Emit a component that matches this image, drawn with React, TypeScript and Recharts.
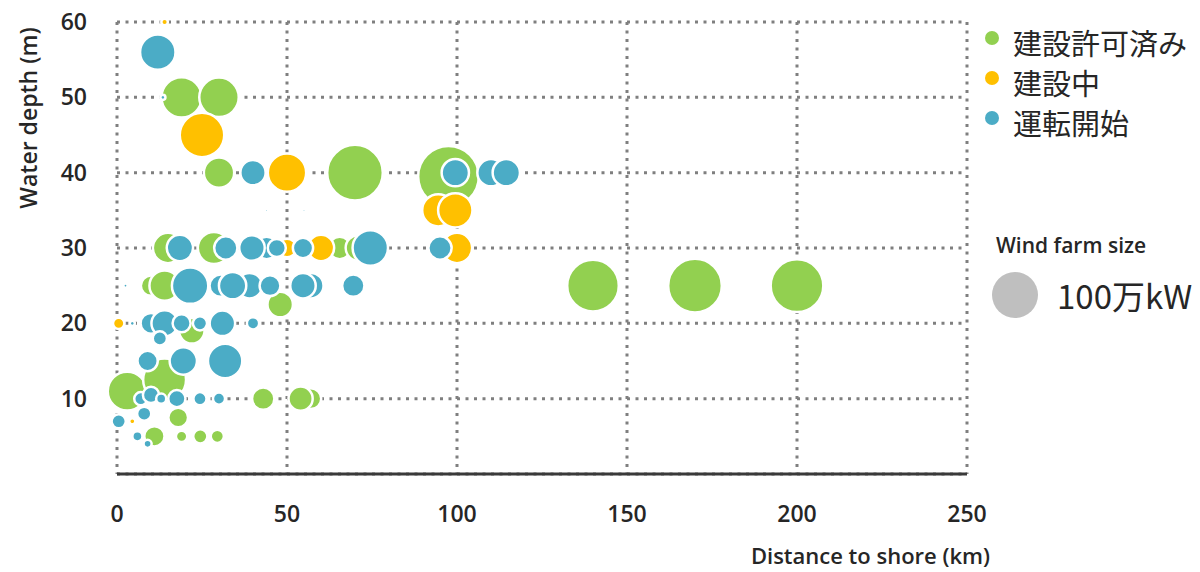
import React from 'react'
import { ScatterChart, Scatter, XAxis, YAxis, ZAxis, CartesianGrid, Label } from 'recharts'

// capacity in MW (z), distance to shore in km (x), water depth in m (y)
const permitted = [
  { x: 140, y: 25, z: 1230 },
  { x: 170, y: 25, z: 1330 },
  { x: 200, y: 25, z: 1280 },
  { x: 70, y: 40, z: 1430 },
  { x: 97.5, y: 39.5, z: 1700 },
  { x: 19, y: 50, z: 750 },
  { x: 30, y: 50, z: 720 },
  { x: 22, y: 45, z: 190 },
  { x: 30, y: 40, z: 425 },
  { x: 15, y: 30, z: 425 },
  { x: 28.5, y: 30, z: 480 },
  { x: 65.5, y: 30, z: 230 },
  { x: 71, y: 30, z: 300 },
  { x: 10, y: 25, z: 190 },
  { x: 14, y: 25, z: 425 },
  { x: 48, y: 22.5, z: 300 },
  { x: 22, y: 19, z: 300 },
  { x: 3, y: 11, z: 700 },
  { x: 14, y: 12.5, z: 850 },
  { x: 43, y: 10, z: 230 },
  { x: 57, y: 10, z: 200 },
  { x: 54, y: 10, z: 270 },
  { x: 18, y: 7.5, z: 180 },
  { x: 11, y: 5, z: 190 },
  { x: 19, y: 5, z: 60 },
  { x: 24.5, y: 5, z: 93 },
  { x: 29.5, y: 5, z: 80 },
]

const underConstruction = [
  { x: 14, y: 60, z: 20 },
  { x: 25, y: 45, z: 915 },
  { x: 50, y: 40, z: 680 },
  { x: 94.5, y: 35, z: 480 },
  { x: 99.5, y: 35, z: 546 },
  { x: 100, y: 30, z: 425 },
  { x: 50, y: 30, z: 160 },
  { x: 60, y: 30, z: 320 },
  { x: 0.5, y: 20, z: 60 },
  { x: 4.5, y: 7, z: 17 },
]

const operating = [
  { x: 12, y: 56, z: 580 },
  { x: 13.5, y: 50, z: 12 },
  { x: 40, y: 40, z: 295 },
  { x: 99.5, y: 40, z: 345 },
  { x: 110, y: 40, z: 345 },
  { x: 114.5, y: 40, z: 345 },
  { x: 44, y: 35, z: 5 },
  { x: 55, y: 35, z: 5 },
  { x: 95, y: 30, z: 250 },
  { x: 18.5, y: 30, z: 320 },
  { x: 32, y: 30, z: 250 },
  { x: 44, y: 30, z: 230 },
  { x: 39.7, y: 30, z: 300 },
  { x: 47, y: 30, z: 150 },
  { x: 54.7, y: 30, z: 190 },
  { x: 74.5, y: 30, z: 580 },
  { x: 2.5, y: 25, z: 8 },
  { x: 30.5, y: 25, z: 230 },
  { x: 21.5, y: 25, z: 612 },
  { x: 39, y: 25, z: 300 },
  { x: 34, y: 25, z: 345 },
  { x: 45, y: 25, z: 200 },
  { x: 57, y: 25, z: 300 },
  { x: 54.7, y: 25, z: 300 },
  { x: 69.5, y: 25, z: 230 },
  { x: 4.5, y: 20, z: 12 },
  { x: 10, y: 20, z: 200 },
  { x: 14, y: 20, z: 320 },
  { x: 19, y: 20, z: 150 },
  { x: 24.4, y: 20, z: 93 },
  { x: 31, y: 20, z: 300 },
  { x: 40, y: 20, z: 70 },
  { x: 12.6, y: 18, z: 93 },
  { x: 9, y: 15, z: 190 },
  { x: 19.5, y: 15, z: 345 },
  { x: 31.8, y: 15, z: 546 },
  { x: 7, y: 10, z: 80 },
  { x: 10, y: 10.5, z: 121 },
  { x: 13, y: 10, z: 47 },
  { x: 8, y: 8, z: 93 },
  { x: 17.6, y: 10, z: 137 },
  { x: 24.4, y: 10, z: 80 },
  { x: 30, y: 10, z: 68 },
  { x: 0.5, y: 7, z: 93 },
  { x: 6, y: 5, z: 47 },
  { x: 9, y: 4, z: 30 },
]

const xTicks = [0, 50, 100, 150, 200, 250]
const yTicks = [10, 20, 30, 40, 50, 60]

const legendItems = [
  { name: '建設許可済み', color: '#92D050' },
  { name: '建設中', color: '#FFC000' },
  { name: '運転開始', color: '#4BACC6' },
]

// bubble area (px²) per MW, so 1000 MW ≈ 46px circle like the legend
const AREA_PER_MW = 1.7

const FONT = '"Open Sans", "Noto Sans CJK JP", sans-serif'
const JP_FONT = '"Noto Sans CJK JP", "Open Sans", sans-serif'

export default function App() {
  return (
    <div style={{ position: 'fixed', left: 0, top: 0, width: 1200, height: 572, background: '#fff', fontFamily: FONT }}>
      <ScatterChart width={1200} height={572} margin={{ top: 22, right: 233, bottom: 0, left: 0 }}>
        <CartesianGrid stroke="#7f7f7f" strokeWidth={3} strokeDasharray="3 5.5" />
        <XAxis
          type="number"
          dataKey="x"
          domain={[0, 250]}
          ticks={xTicks}
          height={98}
          tickSize={0}
          tickMargin={32}
          tickLine={false}
          axisLine={{ stroke: '#3a3a3a', strokeWidth: 3 }}
          tick={{ fill: '#262626', fontSize: 23, fontWeight: 600, fontFamily: FONT }}
        >
          <Label
            content={() => (
              <text x={990} y={564} textAnchor="end" fill="#262626" fontSize={22} fontWeight={600} fontFamily={FONT}>
                Distance to shore (km)
              </text>
            )}
          />
        </XAxis>
        <YAxis
          type="number"
          dataKey="y"
          domain={[0, 60]}
          ticks={yTicks}
          width={117}
          tickSize={0}
          tickMargin={30}
          tickLine={false}
          axisLine={false}
          tick={{ fill: '#262626', fontSize: 23, fontWeight: 600, fontFamily: FONT }}
        >
          <Label
            content={() => (
              <text
                x={28}
                y={118}
                transform="rotate(-90 28 118)"
                textAnchor="middle"
                dominantBaseline="central"
                fill="#262626"
                fontSize={23}
                fontWeight={600}
                fontFamily={FONT}
              >
                Water depth (m)
              </text>
            )}
          />
        </YAxis>
        <ZAxis type="number" dataKey="z" domain={[0, 2000]} range={[0, 2000 * AREA_PER_MW]} />
        <Scatter data={permitted} fill="#92D050" stroke="#fff" strokeWidth={2.5} isAnimationActive={false} />
        <Scatter data={underConstruction} fill="#FFC000" stroke="#fff" strokeWidth={2.5} isAnimationActive={false} />
        <Scatter data={operating} fill="#4BACC6" stroke="#fff" strokeWidth={2.5} isAnimationActive={false} />
      </ScatterChart>

      <div style={{ position: 'absolute', left: 985, top: 22 }}>
        {legendItems.map((item) => (
          <div key={item.name} style={{ display: 'flex', alignItems: 'center', height: 40 }}>
            <span
              style={{
                width: 14,
                height: 14,
                borderRadius: '50%',
                background: item.color,
                marginRight: 14,
                marginTop: -8,
              }}
            />
            <span style={{ fontFamily: JP_FONT, fontSize: 29, color: '#262626', lineHeight: '40px' }}>{item.name}</span>
          </div>
        ))}
      </div>

      <div style={{ position: 'absolute', left: 996, top: 231, fontSize: 21, fontWeight: 600, color: '#262626' }}>
        Wind farm size
      </div>
      <div style={{ position: 'absolute', left: 992, top: 271, display: 'flex', alignItems: 'center' }}>
        <span style={{ width: 46, height: 46, borderRadius: '50%', background: '#BFBFBF', marginRight: 19 }} />
        <span style={{ fontFamily: JP_FONT, fontSize: 33, color: '#262626' }}>100万kW</span>
      </div>
    </div>
  )
}
